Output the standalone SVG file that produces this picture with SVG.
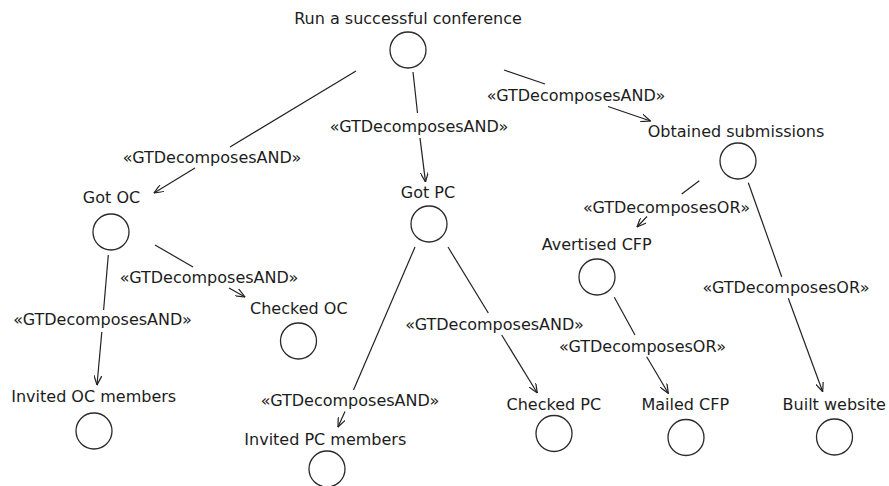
<svg xmlns="http://www.w3.org/2000/svg" width="889" height="486" viewBox="0 0 889 486">
  <style>
    .goal { fill: none; stroke: #2a2a2a; stroke-width: 1.3; }
    .name { font-family: "DejaVu Sans", "Liberation Sans", sans-serif; font-size: 16px; fill: #1c1c1c; text-anchor: middle; }
    .stereo { font-family: "DejaVu Sans", "Liberation Sans", sans-serif; font-size: 16px; fill: #1c1c1c; text-anchor: middle; }
    .link { fill: none; stroke: #222; stroke-width: 1.2; }
    .arrow { marker-end: url(#open); }
  </style>
  <defs>
    <marker id="open" viewBox="0 0 10 8" refX="9.5" refY="4" markerWidth="10" markerHeight="8" markerUnits="userSpaceOnUse" orient="auto">
      <path d="M0,0 L9.5,4 L0,8" fill="none" stroke="#222" stroke-width="1.2"/>
    </marker>
  </defs>

  <rect width="889" height="486" fill="#ffffff"/>

  <!-- decomposition links, broken around their stereotype labels -->
  <g id="connectors">
    <line class="link" x1="356" y1="71" x2="230" y2="147"/>
    <line class="link arrow" x1="195" y1="168" x2="154" y2="193"/>
    <text class="stereo" x="212" y="163">«GTDecomposesAND»</text>

    <line class="link" x1="413" y1="72" x2="417.5" y2="113"/>
    <line class="link arrow" x1="420" y1="138" x2="425.5" y2="182"/>
    <text class="stereo" x="419" y="131.5">«GTDecomposesAND»</text>

    <line class="link" x1="504" y1="70" x2="545" y2="84"/>
    <line class="link arrow" x1="608" y1="106.5" x2="650.5" y2="121"/>
    <text class="stereo" x="576" y="100.5">«GTDecomposesAND»</text>

    <line class="link" x1="155" y1="245" x2="193" y2="267"/>
    <line class="link arrow" x1="229" y1="288" x2="245" y2="297"/>
    <text class="stereo" x="209" y="283">«GTDecomposesAND»</text>

    <line class="link" x1="108.3" y1="255" x2="103.6" y2="310"/>
    <line class="link arrow" x1="101.8" y1="332" x2="97" y2="385"/>
    <text class="stereo" x="102.5" y="325">«GTDecomposesAND»</text>

    <line class="link" x1="415" y1="247" x2="353.5" y2="390"/>
    <line class="link arrow" x1="345" y1="411.5" x2="338" y2="427"/>
    <text class="stereo" x="350" y="406">«GTDecomposesAND»</text>

    <line class="link" x1="448" y1="247" x2="488.3" y2="313"/>
    <line class="link arrow" x1="501.7" y1="335" x2="537.3" y2="393"/>
    <text class="stereo" x="494.5" y="330">«GTDecomposesAND»</text>

    <line class="link" x1="699.3" y1="180.7" x2="681.7" y2="194"/>
    <line class="link arrow" x1="647" y1="216.5" x2="637" y2="227"/>
    <text class="stereo" x="666.5" y="213.3">«GTDecomposesOR»</text>

    <line class="link" x1="748.3" y1="182.7" x2="781.7" y2="276.7"/>
    <line class="link arrow" x1="788.3" y1="298.3" x2="822.7" y2="391.7"/>
    <text class="stereo" x="786" y="293.3">«GTDecomposesOR»</text>

    <line class="link" x1="614.3" y1="297.3" x2="635" y2="335"/>
    <line class="link arrow" x1="646.7" y1="356.7" x2="668.3" y2="393.3"/>
    <text class="stereo" x="642.5" y="351.7">«GTDecomposesOR»</text>
  </g>

  <!-- goals -->
  <g id="run-conference">
    <text class="name" x="408" y="24">Run a successful conference</text>
    <circle class="goal" cx="408" cy="50" r="18"/>
  </g>
  <g id="got-oc">
    <text class="name" x="111.5" y="203">Got OC</text>
    <circle class="goal" cx="111" cy="232" r="18"/>
  </g>
  <g id="got-pc">
    <text class="name" x="428" y="198">Got PC</text>
    <circle class="goal" cx="429" cy="224" r="18"/>
  </g>
  <g id="obtained-submissions">
    <text class="name" x="736" y="137.3">Obtained submissions</text>
    <circle class="goal" cx="738" cy="161" r="18"/>
  </g>
  <g id="avertised-cfp">
    <text class="name" x="596.7" y="250">Avertised CFP</text>
    <circle class="goal" cx="597" cy="277" r="18"/>
  </g>
  <g id="checked-oc">
    <text class="name" x="298.8" y="314">Checked OC</text>
    <circle class="goal" cx="298.5" cy="341" r="18"/>
  </g>
  <g id="invited-oc-members">
    <text class="name" x="93.7" y="401.7">Invited OC members</text>
    <circle class="goal" cx="94" cy="431" r="18"/>
  </g>
  <g id="invited-pc-members">
    <text class="name" x="325.3" y="444.5">Invited PC members</text>
    <circle class="goal" cx="327" cy="469" r="18"/>
  </g>
  <g id="checked-pc">
    <text class="name" x="553.8" y="410">Checked PC</text>
    <circle class="goal" cx="554" cy="433.5" r="18"/>
  </g>
  <g id="mailed-cfp">
    <text class="name" x="685.3" y="410">Mailed CFP</text>
    <circle class="goal" cx="686" cy="437.5" r="18"/>
  </g>
  <g id="built-website">
    <text class="name" x="834.3" y="410">Built website</text>
    <circle class="goal" cx="834.5" cy="437" r="18"/>
  </g>
</svg>
